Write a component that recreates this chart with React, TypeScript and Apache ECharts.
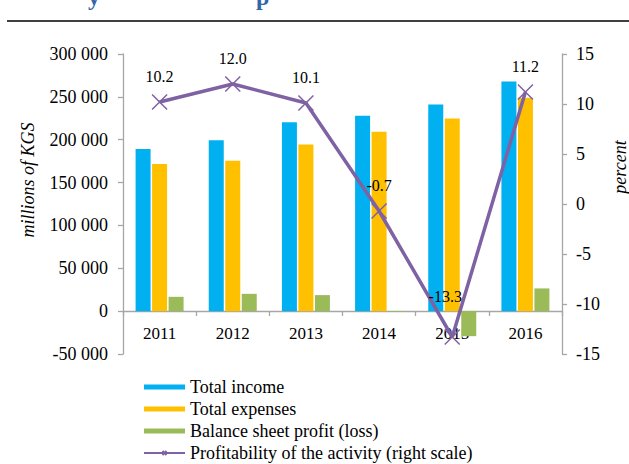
import React, { useEffect, useRef } from "react";
import * as echarts from "echarts";

const years = ["2011", "2012", "2013", "2014", "2015", "2016"];
const totalIncome = [189300, 199500, 220500, 227900, 241100, 268000];
const totalExpenses = [171800, 175400, 194400, 209200, 224800, 248900];
const balanceProfit = [16700, 20200, 18700, -1000, -29200, 26500];
const profitability = [10.2, 12.0, 10.1, -0.7, -13.3, 11.2];

const seriesNames = [
  "Total income",
  "Total expenses",
  "Balance sheet profit (loss)",
  "Profitability of the activity (right scale)",
];

const FONT = "Liberation Serif";
const AXIS_GRAY = "#A6A6A6";

function fmtThousands(v: number): string {
  const s = String(Math.abs(v)).replace(/\B(?=(\d{3})+(?!\d))/g, " ");
  return v < 0 ? "-" + s : s;
}

export default function App() {
  const ref = useRef<HTMLDivElement>(null);
  useEffect(() => {
    if (!ref.current) return;
    const chart = echarts.init(ref.current, undefined, { renderer: "svg" });
    const lineData = profitability.map((v, i) =>
      i === 4 ? { value: v, label: { offset: [-7, -15] } } : { value: v }
    );
    chart.setOption({
      animation: false,
      backgroundColor: "#ffffff",
      textStyle: { fontFamily: "serif" },
      grid: { left: 123, right: 67, top: 54, bottom: 110, containLabel: false },
      legend: {
        type: "plain",
        orient: "vertical",
        left: 138,
        top: 373,
        height: 300,
        itemWidth: 41,
        itemHeight: 5,
        itemGap: 4,
        textStyle: { fontFamily: "serif", fontSize: 18, color: "#000" },
        data: [
          { name: seriesNames[0], icon: "rect" },
          { name: seriesNames[1], icon: "rect" },
          { name: seriesNames[2], icon: "rect" },
          { name: seriesNames[3] },
        ],
        selectedMode: false,
      },
      xAxis: {
        type: "category",
        data: years,
        position: "bottom",
        offset: -43,
        axisLine: { onZero: false, lineStyle: { color: AXIS_GRAY, width: 1.3 } },
        axisTick: { show: true, inside: false, length: 5, lineStyle: { color: AXIS_GRAY, width: 1.3 } },
        axisLabel: { color: "#000", fontFamily: "serif", fontSize: 17, margin: 14 },
        splitLine: { show: false },
      },
      yAxis: [
        {
          type: "value",
          min: -50000,
          max: 300000,
          interval: 50000,
          position: "left",
          axisLine: { show: true, lineStyle: { color: AXIS_GRAY, width: 1.3 } },
          axisTick: { show: true, inside: false, length: 5, lineStyle: { color: AXIS_GRAY, width: 1.3 } },
          axisLabel: {
            color: "#000",
            fontFamily: "serif",
            fontSize: 18,
            margin: 15,
            formatter: (v: number) => fmtThousands(v),
          },
          splitLine: { show: false },
        },
        {
          type: "value",
          min: -15,
          max: 15,
          interval: 5,
          position: "right",
          axisLine: { show: true, lineStyle: { color: AXIS_GRAY, width: 1.3 } },
          axisTick: { show: true, inside: false, length: 5, lineStyle: { color: AXIS_GRAY, width: 1.3 } },
          axisLabel: { color: "#000", fontFamily: "serif", fontSize: 18, margin: 14 },
          splitLine: { show: false },
        },
      ],
      graphic: [
        {
          type: "line",
          shape: { x1: 7, y1: 21, x2: 629, y2: 21 },
          style: { stroke: "#000", lineWidth: 1.5 },
        },
        {
          type: "text",
          x: 88,
          y: -15,
          style: { text: "y", font: "bold 24px " + FONT, fill: "#3366A8" },
        },
        {
          type: "text",
          x: 256,
          y: -15,
          style: { text: "p", font: "bold 24px " + FONT, fill: "#3366A8" },
        },
        {
          type: "text",
          x: 28,
          y: 180,
          rotation: Math.PI / 2,
          style: {
            text: "millions of KGS",
            font: "italic 18px " + FONT,
            fill: "#000",
            align: "center",
            verticalAlign: "middle",
          },
        },
        {
          type: "text",
          x: 620,
          y: 167,
          rotation: Math.PI / 2,
          style: {
            text: "percent",
            font: "italic 18px " + FONT,
            fill: "#000",
            align: "center",
            verticalAlign: "middle",
          },
        },
      ],
      series: [
        {
          name: seriesNames[0],
          type: "bar",
          data: totalIncome,
          barWidth: 15,
          barGap: "10%",
          itemStyle: { color: "#00B0F0" },
        },
        {
          name: seriesNames[1],
          type: "bar",
          data: totalExpenses,
          barWidth: 15,
          barGap: "10%",
          itemStyle: { color: "#FFC000" },
        },
        {
          name: seriesNames[2],
          type: "bar",
          data: balanceProfit,
          barWidth: 15,
          barGap: "10%",
          itemStyle: { color: "#9BBB59" },
        },
        {
          name: seriesNames[3],
          type: "line",
          yAxisIndex: 1,
          data: lineData,
          z: 5,
          symbol: "path://M0,0L10,10M10,0L0,10",
          symbolSize: 15,
          showAllSymbol: true,
          lineStyle: { color: "#7F62A3", width: 3.5 },
          itemStyle: { color: "#7F62A3", borderColor: "#7F62A3", borderWidth: 1.5 },
          label: {
            show: true,
            position: "top",
            distance: 9,
            color: "#000",
            fontFamily: "serif",
            fontSize: 16,
            formatter: (p: any) => Number(p.value).toFixed(1),
          },
        },
      ],
    });
    return () => chart.dispose();
  }, []);
  return (
    <div
      ref={ref}
      style={{ position: "fixed", left: 0, top: 0, width: 629, height: 464, background: "#fff" }}
    />
  );
}
